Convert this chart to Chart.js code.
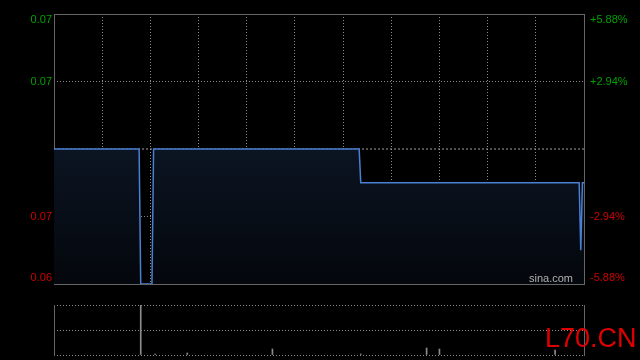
<!DOCTYPE html>
<html>
<head>
<meta charset="utf-8">
<script src="https://cdn.jsdelivr.net/npm/chart.js@4.4.1/dist/chart.umd.min.js"></script>
<style>
  html, body { margin: 0; padding: 0; background: #000; }
  #wrap { position: relative; width: 640px; height: 360px; overflow: hidden; background: #000; }
  #priceChart { position: absolute; left: 0; top: 0; }
  #volChart { position: absolute; left: 0; top: 300px; }
  #mark { position: absolute; left: 545px; top: 325px; font: 27px "Liberation Sans", Arial, sans-serif; line-height: 27px; color: #e00000; }
</style>
</head>
<body>
<div id="wrap">
  <canvas id="priceChart" width="640" height="300"></canvas>
  <canvas id="volChart" width="640" height="60"></canvas>
  <div id="mark">L70.CN</div>
</div>
<script>
// minutes since the open (9:30 - 16:00, lunch removed)
const minutes = [0, 53, 54, 61, 62, 190, 191, 327, 328, 329, 330];
const prices = [0.068, 0.068, 0.064, 0.064, 0.068, 0.068, 0.067, 0.067, 0.065, 0.067, 0.067];
const prevClose = 0.068;
const sessionEnd = 330;

const priceTicks = [0.064, 0.066, 0.068, 0.070, 0.072];
const leftLabels = ['0.06', '0.07', '', '0.07', '0.07'];
const rightLabels = ['-5.88%', '-2.94%', '', '+2.94%', '+5.88%'];

const volMinutes = [54, 63, 83, 136, 191, 232, 240, 312];
const volumes = [500000, 10000, 20000, 60000, 10000, 70000, 60000, 50000];

const upColor = '#00a000';
const downColor = '#cc0000';
const gridColor = '#8a8a8a';
const frameColor = '#666';
const font = '11px "Liberation Sans", Arial, sans-serif';

const closeLine = [
    { x: 0, y: prevClose },
    { x: sessionEnd, y: prevClose }
];

// solid frame round the plot area, drawn under the price line
const frame = {
    id: 'frame',
    beforeDatasetsDraw(chart) {
        const { ctx, chartArea } = chart;
        ctx.save();
        ctx.strokeStyle = frameColor;
        ctx.lineWidth = 1;
        ctx.strokeRect(chartArea.left + 0.5, chartArea.top + 0.5,
            chartArea.right - chartArea.left, chartArea.bottom - chartArea.top);
        ctx.restore();
    }
};

// price and percent labels on both sides, kept inside the frame at the ends
const sideLabels = {
    id: 'sideLabels',
    afterDraw(chart) {
        const { ctx, chartArea } = chart;
        const yScale = chart.scales.y;
        ctx.save();
        ctx.font = font;
        ctx.textBaseline = 'middle';
        priceTicks.forEach((v, i) => {
            if (!leftLabels[i]) return;
            let py = yScale.getPixelForValue(v);
            py = Math.min(Math.max(py, chartArea.top + 6), chartArea.bottom - 6);
            ctx.fillStyle = v > prevClose ? upColor : downColor;
            ctx.textAlign = 'right';
            ctx.fillText(leftLabels[i], chartArea.left - 2, py);
            ctx.textAlign = 'left';
            ctx.fillText(rightLabels[i], chartArea.right + 6, py);
        });
        ctx.fillStyle = '#b0b0b0';
        ctx.textAlign = 'right';
        ctx.fillText('sina.com', chartArea.right - 11, chartArea.bottom - 5);
        ctx.restore();
    }
};

new Chart(document.getElementById('priceChart').getContext('2d'), {
    type: 'line',
    data: {
        datasets: [
            {
                data: minutes.map((m, i) => ({ x: m, y: prices[i] })),
                borderColor: '#4a7fd4',
                borderWidth: 1.5,
                pointRadius: 0,
                tension: 0,
                fill: 'start',
                backgroundColor: function(context) {
                    const chart = context.chart;
                    const area = chart.chartArea;
                    if (!area) return 'rgba(0,0,0,0)';
                    const top = chart.scales.y.getPixelForValue(prevClose);
                    const g = chart.ctx.createLinearGradient(0, top, 0, area.bottom);
                    g.addColorStop(0, 'rgb(11, 20, 34)');
                    g.addColorStop(1, 'rgb(4, 7, 12)');
                    return g;
                }
            },
            {
                data: closeLine,
                borderColor: '#a0a0a0',
                borderWidth: 1,
                borderDash: [2, 2],
                pointRadius: 0,
                fill: false
            }
        ]
    },
    options: {
        responsive: false,
        animation: false,
        layout: { padding: { top: 14, bottom: 16, left: 0, right: 0 } },
        plugins: {
            legend: { display: false },
            tooltip: { enabled: false }
        },
        scales: {
            x: {
                type: 'linear',
                min: 0,
                max: sessionEnd,
                ticks: { display: false, stepSize: 30 },
                grid: { color: gridColor, drawTicks: false },
                border: { display: false, dash: [1, 2] },
                afterFit: function(scale) { scale.height = 0; }
            },
            y: {
                position: 'left',
                min: priceTicks[0],
                max: priceTicks[priceTicks.length - 1],
                afterBuildTicks: function(scale) {
                    scale.ticks = priceTicks.map(v => ({ value: v }));
                },
                ticks: { display: false },
                grid: {
                    drawTicks: false,
                    color: function(ctx) {
                        if (ctx.tick && Math.abs(ctx.tick.value - prevClose) < 1e-9) return 'rgba(0,0,0,0)';
                        return gridColor;
                    }
                },
                border: { display: false, dash: [1, 2] },
                afterFit: function(scale) { scale.width = 54; }
            },
            y2: {
                position: 'right',
                min: priceTicks[0],
                max: priceTicks[priceTicks.length - 1],
                ticks: { display: false },
                grid: { drawOnChartArea: false, drawTicks: false },
                border: { display: false },
                afterFit: function(scale) { scale.width = 56; }
            }
        }
    },
    plugins: [frame, sideLabels]
});

// volume panel: solid sides, dotted top / middle / bottom
const volMax = Math.max(...volumes);
const volSides = {
    id: 'volSides',
    afterDraw(chart) {
        const { ctx, chartArea } = chart;
        ctx.save();
        ctx.strokeStyle = frameColor;
        ctx.lineWidth = 1;
        ctx.beginPath();
        ctx.moveTo(chartArea.left + 0.5, chartArea.top);
        ctx.lineTo(chartArea.left + 0.5, chartArea.bottom + 1);
        ctx.moveTo(chartArea.right + 0.5, chartArea.top);
        ctx.lineTo(chartArea.right + 0.5, chartArea.bottom + 1);
        ctx.stroke();
        ctx.restore();
    }
};

new Chart(document.getElementById('volChart').getContext('2d'), {
    type: 'bar',
    data: {
        datasets: [{
            data: volMinutes.map((m, i) => ({ x: m, y: volumes[i] })),
            backgroundColor: '#8c8c8c',
            barThickness: 1,
            borderWidth: 0
        }]
    },
    options: {
        responsive: false,
        animation: false,
        layout: { padding: { top: 5, bottom: 5, left: 0, right: 0 } },
        plugins: {
            legend: { display: false },
            tooltip: { enabled: false }
        },
        scales: {
            x: {
                type: 'linear',
                offset: false,
                min: 0,
                max: sessionEnd,
                ticks: { display: false },
                grid: { display: false, offset: false },
                border: { display: false },
                afterFit: function(scale) { scale.height = 0; }
            },
            y: {
                position: 'left',
                min: 0,
                max: volMax,
                afterBuildTicks: function(scale) {
                    scale.ticks = [0, volMax / 2, volMax].map(v => ({ value: v }));
                },
                ticks: { display: false },
                grid: { color: gridColor, drawTicks: false },
                border: { display: false, dash: [1, 2] },
                afterFit: function(scale) { scale.width = 54; }
            },
            y2: {
                position: 'right',
                min: 0,
                max: volMax,
                ticks: { display: false },
                grid: { drawOnChartArea: false, drawTicks: false },
                border: { display: false },
                afterFit: function(scale) { scale.width = 56; }
            }
        }
    },
    plugins: [volSides]
});
</script>
</body>
</html>
